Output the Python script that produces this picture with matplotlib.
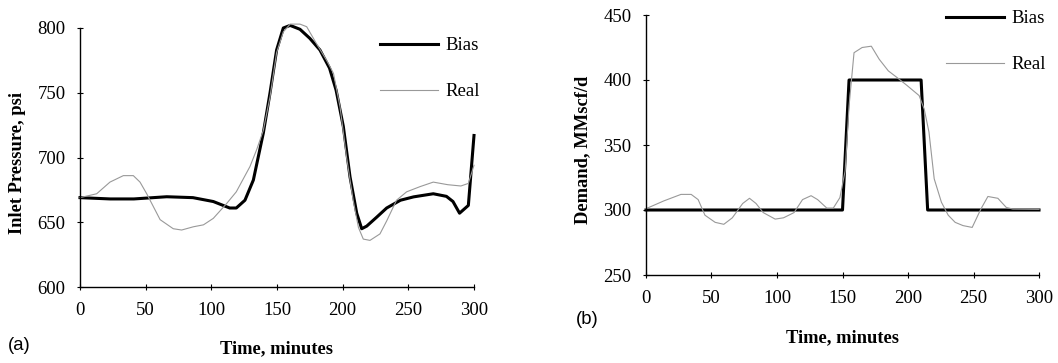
import matplotlib
matplotlib.use("Agg")
import matplotlib.pyplot as plt

# panel (a): inlet pressure, psi
t_bias_a = [0, 23, 41, 66, 86, 101.5, 114, 119, 125.6, 132, 139.6, 144.7, 149.7, 154.8,
            160, 167.5, 175, 182.7, 190, 195, 200.5, 205.6, 210.7, 214.5, 218.3, 226,
            233.5, 244, 254, 269, 279, 284, 289, 295.7, 300]
p_bias_a = [669, 668, 668, 669.7, 669, 666, 661, 661, 667, 682.6, 719, 750, 783, 800,
            802, 799, 792, 783, 769, 752, 724, 685, 657, 645, 647, 654,
            661, 667, 669.6, 672, 670, 666, 657, 663, 717]

t_real_a = [0, 12.7, 22.8, 33, 40.6, 45.7, 50.8, 61, 71, 77.4, 86.3, 94, 101.5, 111.7,
            119, 129.4, 134.5, 139.6, 144.7, 149.7, 154.8, 160, 167.5, 172.6, 180,
            187.8, 193, 198, 203, 208, 212, 215.7, 220.8, 228.4, 233.5, 241, 248.7,
            258.9, 269, 280, 290, 295.7, 300]
p_real_a = [669, 672, 681, 686, 686, 681, 672, 652, 645, 644, 646.5, 648, 653, 664.5,
            673.5, 693, 706, 721, 747, 781, 797, 803, 803, 801, 788,
            775, 765, 739, 700, 667, 646, 637, 636, 641, 651, 667, 673.5,
            677.5, 681, 679, 678, 680, 694]

# panel (b): demand, MMscf/d
t_bias_b = [0, 150, 155, 210, 215, 300]
d_bias_b = [300, 300, 400, 400, 300, 300]

t_real_b = [0, 13.6, 26.7, 34.5, 39.8, 45, 52.8, 59.4, 65.9, 73.8, 79, 84, 89.5, 98.6,
            105, 113, 119.5, 126, 131, 138, 143, 148, 152, 155, 158.8, 165, 172, 178,
            185, 191.5, 199, 208.5, 212.4, 216, 220, 225.5, 230.7, 236, 242, 249,
            255.6, 261, 268.6, 275, 280, 300]
d_real_b = [301, 307, 312, 312, 308, 296, 290.5, 289, 294, 305, 309, 305, 298, 293,
            294, 298, 308, 311, 308, 301.5, 301.5, 309.5, 330, 380, 421, 425, 426, 416,
            407, 402, 396, 388, 377.5, 360, 324, 306, 296, 290.5, 288, 286.6,
            300.7, 310.4, 309, 302, 300.7, 300.5]

xticks = [0, 50, 100, 150, 200, 250, 300]

serif = "Liberation Serif"
fs = 13.5
fs_lab = 13.3

fig = plt.figure(figsize=(10.58, 3.63), dpi=100)
ax1 = fig.add_axes([80 / 1058, 1 - 287 / 363, 394 / 1058, 259 / 363])
ax2 = fig.add_axes([646 / 1058, 1 - 275 / 363, 393 / 1058, 260 / 363])


def style(ax, ylim, yticks, ylabel, ylab_x, xlab_y, leg_anchor):
    ax.set_xlim(0, 300)
    ax.set_ylim(*ylim)
    ax.set_xticks(xticks)
    ax.set_yticks(yticks)
    for s in ["top", "right"]:
        ax.spines[s].set_visible(False)
    for s in ["left", "bottom"]:
        ax.spines[s].set_linewidth(1.0)
    ax.tick_params(direction="inout", length=5, width=0.8, labelsize=fs)
    ax.tick_params(axis="x", pad=8)
    ax.tick_params(axis="y", pad=8)
    for lab in ax.get_xticklabels() + ax.get_yticklabels():
        lab.set_fontfamily(serif)
    ax.set_ylabel(ylabel, fontfamily=serif, fontweight="bold", fontsize=fs_lab)
    ax.yaxis.set_label_coords(ylab_x, 0.48)
    ax.yaxis.label.set_va("center")
    ax.set_xlabel("Time, minutes", fontfamily=serif, fontweight="bold", fontsize=fs_lab)
    ax.xaxis.set_label_coords(0.5, xlab_y)
    ax.xaxis.label.set_va("center")
    ax.legend(loc="upper left", bbox_to_anchor=leg_anchor, frameon=False,
              prop={"family": serif, "size": fs}, handlelength=3.1,
              handletextpad=0.4, labelspacing=1.55, borderpad=0, borderaxespad=0)


ax1.plot(t_bias_a, p_bias_a, color="black", lw=2.2, label="Bias", clip_on=False)
ax1.plot(t_real_a, p_real_a, color="#999999", lw=0.8, label="Real", clip_on=False)
style(ax1, (600, 800), [600, 650, 700, 750, 800], "Inlet Pressure, psi",
      (18 - 80) / 394, (287 - 349) / 259, ((380 - 80) / 394, (287 - 37) / 259))

ax2.plot(t_bias_b, d_bias_b, color="black", lw=2.2, label="Bias", clip_on=False)
ax2.plot(t_real_b, d_real_b, color="#999999", lw=0.8, label="Real", clip_on=False)
style(ax2, (250, 450), [250, 300, 350, 400, 450], "Demand, MMscf/d",
      (583 - 646) / 393, (275 - 338) / 260, ((946 - 646) / 393, (275 - 10) / 260))

fig.text(8 / 1058, 1 - 346 / 363, "(a)", family="Liberation Sans", fontsize=fs_lab, va="center")
fig.text(576 / 1058, 1 - 320 / 363, "(b)", family="Liberation Sans", fontsize=fs_lab, va="center")

fig.savefig("out.png", dpi=100)
